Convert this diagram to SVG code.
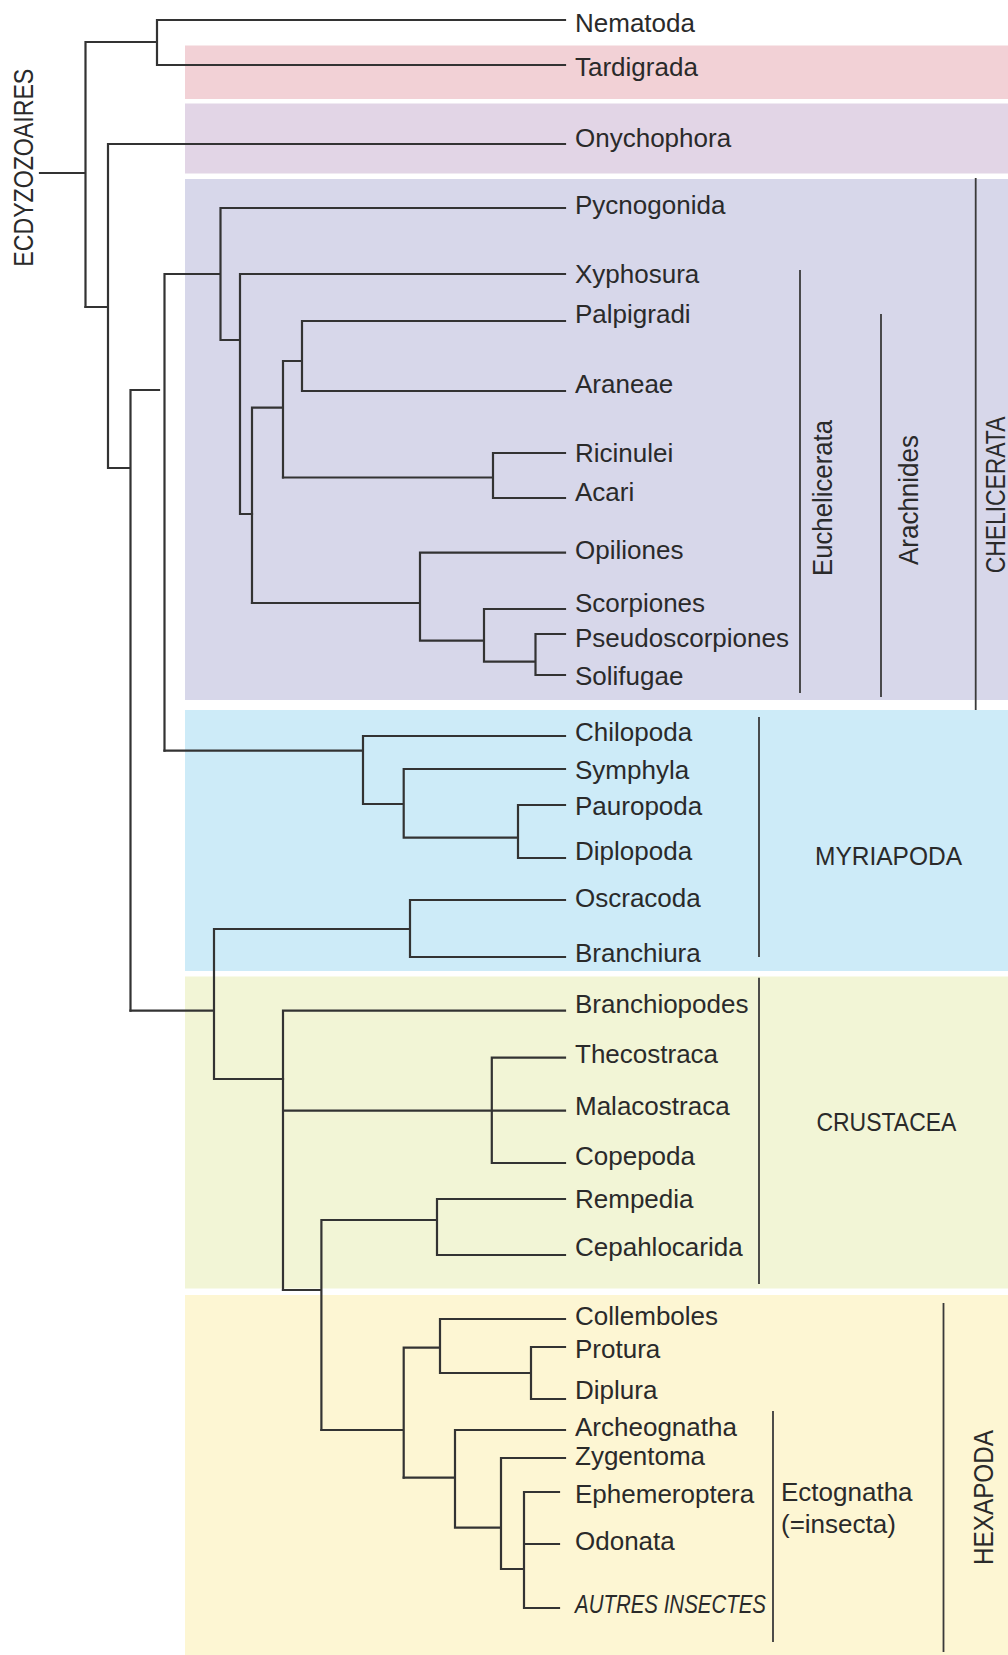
<svg xmlns="http://www.w3.org/2000/svg" width="1008" height="1655" viewBox="0 0 1008 1655">
<style>
.bg{fill:#ffffff}
.t{font-family:"Liberation Sans",Arial,sans-serif;font-size:26px;fill:#2a2a2a}
.it{font-style:italic}
.r{font-family:"Liberation Sans",Arial,sans-serif;font-size:27px;fill:#2a2a2a}
.tree{fill:none;stroke:#333333;stroke-width:2.2;stroke-linecap:square;stroke-linejoin:miter}
.br{fill:none;stroke:#3a3a3a;stroke-width:1.8}
</style>
<rect class="bg" x="0" y="0" width="1008" height="1655"/>
<g id="bands">
<rect id="band-tardigrada" x="185" y="45.5" width="823" height="53.5" fill="#f2d1d6"/>
<rect id="band-onychophora" x="185" y="103.5" width="823" height="70" fill="#e2d5e6"/>
<rect id="band-chelicerata" x="185" y="179" width="823" height="521" fill="#d7d7ea"/>
<rect id="band-myriapoda" x="185" y="710" width="823" height="261" fill="#cdebf8"/>
<rect id="band-crustacea" x="185" y="976.5" width="823" height="312" fill="#f2f5d6"/>
<rect id="band-hexapoda" x="185" y="1295" width="823" height="360" fill="#fdf6d3"/>
</g>
<g id="connectors" class="tree">
<path d="M40,173H85.5M85.5,42V307M85.5,42H157M157,20V65M157,20H565M157,65H565"/>
<path d="M85.5,307H108M108,144V468M108,144H565M108,468H130.5M130.5,390V1010.7M130.5,390H159"/>
<path d="M164.5,274V750.7M164.5,274H220.5M220.5,208V340M220.5,208H565M220.5,340H240M240,274V514M240,274H565M240,514H252"/>
<path d="M252,407.7V603M252,407.7H283M283,361V477.5M283,361H302M302,321V391M302,321H565M302,391H565"/>
<path d="M283,477.5H493M493,453V498M493,453H565M493,498H565"/>
<path d="M252,603H420M420,552.7V640.7M420,552.7H565M420,640.7H484M484,609V661.7M484,609H565M484,661.7H535.5M535.5,634V675M535.5,634H565M535.5,675H565"/>
<path d="M164.5,750.7H363M363,736V804M363,736H565M363,804H403.7M403.7,769V837.7M403.7,769H565M403.7,837.7H518M518,805V858M518,805H565M518,858H565"/>
<path d="M130.5,1010.7H214M214,929V1079M214,929H410M410,900V957M410,900H565M410,957H565M214,1079H283"/>
<path d="M283,1010.7V1290M283,1010.7H565M283,1110.7H565M491.8,1057.7V1163M491.8,1057.7H565M491.8,1163H565"/>
<path d="M283,1290H321.4M321.4,1220V1430M321.4,1220H437M437,1199V1255M437,1199H565M437,1255H565"/>
<path d="M321.4,1430H403.7M403.7,1347.7V1477.7M403.7,1347.7H440M440,1319V1373M440,1319H565M440,1373H531M531,1347V1399M531,1347H565M531,1399H565"/>
<path d="M403.7,1477.7H455M455,1430V1527.7M455,1430H565M455,1527.7H501M501,1458V1569M501,1458H565M501,1569H524M524,1492V1608M524,1492H559M524,1544H559M524,1608H559"/>
</g>
<g id="brackets" class="br">
<path id="br-euchelicerata" d="M800,270V693"/>
<path id="br-arachnides" d="M881,314V697"/>
<path id="br-chelicerata" d="M975.7,178V710"/>
<path id="br-myriapoda" d="M759,717V957"/>
<path id="br-crustacea" d="M759,977.7V1284"/>
<path id="br-ectognatha" d="M773,1411V1642"/>
<path id="br-hexapoda" d="M943.5,1303V1652"/>
</g>
<g id="taxa">
<g id="n-nematoda"><text class="t" x="575" y="32">Nematoda</text></g>
<g id="n-tardigrada"><text class="t" x="575" y="76">Tardigrada</text></g>
<g id="n-onychophora"><text class="t" x="575" y="147">Onychophora</text></g>
<g id="n-pycnogonida"><text class="t" x="575" y="214">Pycnogonida</text></g>
<g id="n-xyphosura"><text class="t" x="575" y="283">Xyphosura</text></g>
<g id="n-palpigradi"><text class="t" x="575" y="323">Palpigradi</text></g>
<g id="n-araneae"><text class="t" x="575" y="393">Araneae</text></g>
<g id="n-ricinulei"><text class="t" x="575" y="461.7">Ricinulei</text></g>
<g id="n-acari"><text class="t" x="575" y="500.7">Acari</text></g>
<g id="n-opiliones"><text class="t" x="575" y="559.3">Opiliones</text></g>
<g id="n-scorpiones"><text class="t" x="575" y="611.7">Scorpiones</text></g>
<g id="n-pseudoscorpiones"><text class="t" x="575" y="647.3">Pseudoscorpiones</text></g>
<g id="n-solifugae"><text class="t" x="575" y="685">Solifugae</text></g>
<g id="n-chilopoda"><text class="t" x="575" y="740.7">Chilopoda</text></g>
<g id="n-symphyla"><text class="t" x="575" y="779.3">Symphyla</text></g>
<g id="n-pauropoda"><text class="t" x="575" y="815">Pauropoda</text></g>
<g id="n-diplopoda"><text class="t" x="575" y="860">Diplopoda</text></g>
<g id="n-oscracoda"><text class="t" x="575" y="907.3">Oscracoda</text></g>
<g id="n-branchiura"><text class="t" x="575" y="961.7">Branchiura</text></g>
<g id="n-branchiopodes"><text class="t" x="575" y="1013.3">Branchiopodes</text></g>
<g id="n-thecostraca"><text class="t" x="575" y="1063.3">Thecostraca</text></g>
<g id="n-malacostraca"><text class="t" x="575" y="1115">Malacostraca</text></g>
<g id="n-copepoda"><text class="t" x="575" y="1165">Copepoda</text></g>
<g id="n-rempedia"><text class="t" x="575" y="1208.3">Rempedia</text></g>
<g id="n-cepahlocarida"><text class="t" x="575" y="1256">Cepahlocarida</text></g>
<g id="n-collemboles"><text class="t" x="575" y="1325">Collemboles</text></g>
<g id="n-protura"><text class="t" x="575" y="1358.3">Protura</text></g>
<g id="n-diplura"><text class="t" x="575" y="1399.3">Diplura</text></g>
<g id="n-archeognatha"><text class="t" x="575" y="1436">Archeognatha</text></g>
<g id="n-zygentoma"><text class="t" x="575" y="1465">Zygentoma</text></g>
<g id="n-ephemeroptera"><text class="t" x="575" y="1502.5">Ephemeroptera</text></g>
<g id="n-odonata"><text class="t" x="575" y="1550">Odonata</text></g>
<g id="n-autres"><text class="t it" x="575" y="1613.3" textLength="191" lengthAdjust="spacingAndGlyphs">AUTRES INSECTES</text></g>
</g>
<g id="groups">
<g id="g-ecdyzozoaires"><text class="r" font-size="28" transform="translate(33.3,266.7) rotate(-90)" textLength="198" lengthAdjust="spacingAndGlyphs">ECDYZOZOAIRES</text></g>
<g id="g-euchelicerata"><text class="r" transform="translate(831.7,576) rotate(-90)" textLength="156" lengthAdjust="spacingAndGlyphs">Euchelicerata</text></g>
<g id="g-arachnides"><text class="r" transform="translate(918.3,565) rotate(-90)" textLength="130" lengthAdjust="spacingAndGlyphs">Arachnides</text></g>
<g id="g-chelicerata"><text class="r" font-size="26" transform="translate(1005,573.3) rotate(-90)" textLength="156.7" lengthAdjust="spacingAndGlyphs">CHELICERATA</text></g>
<g id="g-myriapoda"><text class="t" x="815" y="865" textLength="147" lengthAdjust="spacingAndGlyphs">MYRIAPODA</text></g>
<g id="g-crustacea"><text class="t" x="816.4" y="1131" textLength="140" lengthAdjust="spacingAndGlyphs">CRUSTACEA</text></g>
<g id="g-ectognatha"><text class="t" x="781" y="1500.7">Ectognatha</text><text class="t" x="781" y="1533.3">(=insecta)</text></g>
<g id="g-hexapoda"><text class="r" transform="translate(993.3,1565) rotate(-90)" textLength="135" lengthAdjust="spacingAndGlyphs">HEXAPODA</text></g>
</g>
</svg>
